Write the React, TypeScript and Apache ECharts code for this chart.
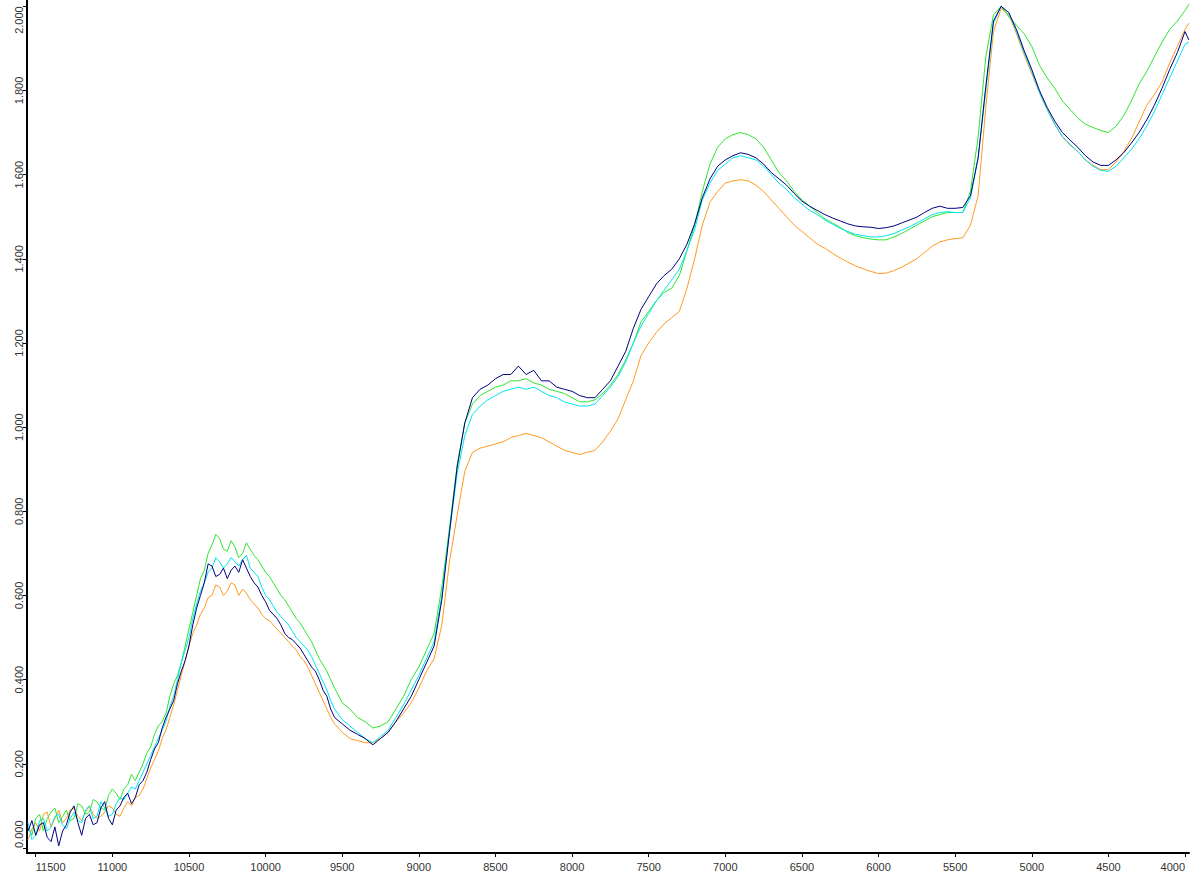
import React, { useEffect, useRef } from "react";
import * as echarts from "echarts";

const WAVENUMBERS = [
  11550, 11525, 11500, 11475, 11450, 11425, 11400, 11375, 11350, 11325,
  11300, 11275, 11250, 11225, 11200, 11175, 11150, 11125, 11100, 11075,
  11050, 11025, 11000, 10975, 10950, 10925, 10900, 10875, 10850, 10825,
  10800, 10775, 10750, 10725, 10700, 10675, 10650, 10625, 10600, 10575,
  10550, 10525, 10500, 10475, 10450, 10425, 10400, 10375, 10350, 10325,
  10300, 10275, 10250, 10225, 10200, 10175, 10150, 10125, 10100, 10075,
  10050, 10025, 10000, 9975, 9950, 9925, 9900, 9875, 9850, 9825,
  9800, 9775, 9750, 9725, 9700, 9675, 9650, 9625, 9600, 9575,
  9550, 9500, 9450, 9400, 9350, 9300, 9250, 9200, 9150, 9100,
  9050, 9000, 8950, 8900, 8850, 8800, 8750, 8700, 8650, 8600,
  8550, 8500, 8450, 8400, 8350, 8300, 8250, 8200, 8150, 8100,
  8050, 8000, 7950, 7900, 7850, 7800, 7750, 7700, 7650, 7600,
  7550, 7500, 7450, 7400, 7350, 7300, 7250, 7200, 7150, 7100,
  7050, 7000, 6950, 6900, 6850, 6800, 6750, 6700, 6650, 6600,
  6550, 6500, 6450, 6400, 6350, 6300, 6250, 6200, 6150, 6100,
  6050, 6000, 5950, 5900, 5850, 5800, 5750, 5700, 5650, 5600,
  5550, 5500, 5450, 5400, 5350, 5300, 5250, 5200, 5150, 5100,
  5050, 5000, 4950, 4900, 4850, 4800, 4750, 4700, 4650, 4600,
  4550, 4500, 4450, 4400, 4350, 4300, 4250, 4200, 4150, 4100,
  4050, 4000, 3975,
];

const NAVY = [
  0.04, 0.065, 0.03, 0.055, 0.06, 0.025, 0.015, 0.05, 0.005, 0.04,
  0.055, 0.085, 0.10, 0.06, 0.03, 0.07, 0.08, 0.055, 0.06, 0.095,
  0.11, 0.07, 0.055, 0.09, 0.10, 0.12, 0.13, 0.105, 0.12, 0.15,
  0.16, 0.18, 0.21, 0.235, 0.25, 0.285, 0.31, 0.33, 0.35, 0.39,
  0.42, 0.445, 0.48, 0.53, 0.57, 0.60, 0.63, 0.675, 0.67, 0.645,
  0.65, 0.665, 0.64, 0.66, 0.67, 0.655, 0.685, 0.665, 0.645, 0.63,
  0.62, 0.60, 0.585, 0.565, 0.555, 0.545, 0.53, 0.51, 0.50, 0.495,
  0.485, 0.475, 0.46, 0.445, 0.43, 0.42, 0.40, 0.375, 0.36, 0.33,
  0.31, 0.295, 0.28, 0.27, 0.26, 0.245, 0.26, 0.275, 0.30, 0.33,
  0.36, 0.40, 0.44, 0.48, 0.59, 0.75, 0.905, 1.01, 1.07, 1.09,
  1.10, 1.115, 1.125, 1.125, 1.145, 1.125, 1.135, 1.11, 1.11, 1.095,
  1.09, 1.085, 1.075, 1.07, 1.07, 1.09, 1.11, 1.145, 1.18, 1.235,
  1.28, 1.31, 1.34, 1.36, 1.375, 1.40, 1.435, 1.483, 1.545, 1.59,
  1.62, 1.635, 1.645, 1.652, 1.648, 1.64, 1.625, 1.605, 1.59, 1.575,
  1.555, 1.537, 1.525, 1.515, 1.505, 1.497, 1.49, 1.483, 1.478, 1.476,
  1.475, 1.472, 1.474, 1.478, 1.485, 1.492, 1.499, 1.51, 1.52, 1.525,
  1.52, 1.52, 1.522, 1.55, 1.64, 1.81, 1.965, 2.0, 1.985, 1.945,
  1.895, 1.85, 1.80, 1.76, 1.727, 1.70, 1.682, 1.665, 1.645, 1.63,
  1.622, 1.622, 1.635, 1.652, 1.675, 1.70, 1.73, 1.765, 1.805, 1.85,
  1.89, 1.94, 1.92,
];

const GREEN = [
  0.05, 0.03, 0.07, 0.08, 0.04, 0.07, 0.085, 0.095, 0.06, 0.075,
  0.09, 0.065, 0.07, 0.105, 0.10, 0.08, 0.085, 0.115, 0.11, 0.095,
  0.09, 0.125, 0.14, 0.13, 0.115, 0.14, 0.15, 0.175, 0.16, 0.18,
  0.20, 0.225, 0.24, 0.27, 0.29, 0.30, 0.32, 0.36, 0.39, 0.41,
  0.44, 0.48, 0.52, 0.56, 0.60, 0.64, 0.66, 0.70, 0.72, 0.745,
  0.735, 0.71, 0.705, 0.73, 0.715, 0.69, 0.70, 0.725, 0.71, 0.695,
  0.685, 0.67, 0.655, 0.645, 0.63, 0.615, 0.60, 0.59, 0.575, 0.56,
  0.545, 0.535, 0.52, 0.505, 0.49, 0.47, 0.45, 0.435, 0.42, 0.40,
  0.38, 0.345, 0.33, 0.31, 0.30, 0.285, 0.29, 0.30, 0.33, 0.36,
  0.40, 0.43, 0.47, 0.51, 0.62, 0.76, 0.91, 1.01, 1.055, 1.075,
  1.085, 1.095, 1.10, 1.11, 1.11, 1.115, 1.105, 1.10, 1.09, 1.085,
  1.08, 1.07, 1.06, 1.06, 1.065, 1.08, 1.10, 1.125, 1.16, 1.20,
  1.25, 1.275, 1.30, 1.32, 1.33, 1.36, 1.42, 1.48, 1.56, 1.625,
  1.665, 1.685, 1.695, 1.70, 1.695, 1.685, 1.665, 1.635, 1.605, 1.585,
  1.56, 1.54, 1.525, 1.51, 1.495, 1.485, 1.475, 1.462, 1.455, 1.45,
  1.447, 1.445, 1.445, 1.452, 1.46, 1.47, 1.48, 1.49, 1.50, 1.505,
  1.51, 1.51, 1.51, 1.56, 1.69, 1.88, 1.98, 2.0, 1.975, 1.955,
  1.935, 1.905, 1.86, 1.83, 1.805, 1.775, 1.755, 1.735, 1.72, 1.712,
  1.705, 1.70, 1.715, 1.74, 1.775, 1.815, 1.845, 1.88, 1.915, 1.945,
  1.965, 1.99, 2.005,
];

const CYAN = [
  0.06, 0.02, 0.03, 0.065, 0.07, 0.04, 0.05, 0.075, 0.08, 0.055,
  0.045, 0.07, 0.085, 0.065, 0.06, 0.09, 0.10, 0.07, 0.075, 0.11,
  0.095, 0.075, 0.08, 0.105, 0.12, 0.115, 0.13, 0.145, 0.14, 0.16,
  0.18, 0.20, 0.22, 0.24, 0.26, 0.28, 0.30, 0.335, 0.36, 0.40,
  0.44, 0.47, 0.50, 0.545, 0.58, 0.61, 0.63, 0.655, 0.665, 0.69,
  0.68, 0.665, 0.675, 0.69, 0.68, 0.67, 0.685, 0.695, 0.665, 0.655,
  0.645, 0.62, 0.60, 0.59, 0.575, 0.56, 0.55, 0.54, 0.53, 0.515,
  0.50, 0.49, 0.48, 0.47, 0.455, 0.435, 0.415, 0.395, 0.375, 0.35,
  0.33, 0.305, 0.29, 0.275, 0.26, 0.25, 0.265, 0.28, 0.31, 0.34,
  0.375, 0.41, 0.45, 0.49, 0.60, 0.75, 0.89, 0.98, 1.03, 1.05,
  1.065, 1.075, 1.085, 1.09, 1.095, 1.09, 1.095, 1.085, 1.075, 1.07,
  1.06, 1.055, 1.05, 1.05, 1.055, 1.075, 1.095, 1.12, 1.155, 1.20,
  1.24, 1.27, 1.30, 1.325, 1.35, 1.375, 1.42, 1.47, 1.54, 1.58,
  1.61, 1.625, 1.64, 1.645, 1.64, 1.635, 1.62, 1.60, 1.58, 1.565,
  1.545, 1.53, 1.515, 1.505, 1.492, 1.482, 1.472, 1.465, 1.458, 1.455,
  1.452, 1.452, 1.455, 1.46, 1.468, 1.476, 1.485, 1.495, 1.505, 1.51,
  1.512, 1.51, 1.51, 1.545, 1.64, 1.80, 1.96, 2.0, 1.985, 1.94,
  1.89, 1.845, 1.795, 1.755, 1.72, 1.69, 1.672, 1.655, 1.635, 1.62,
  1.61, 1.608, 1.62, 1.64, 1.66, 1.685, 1.715, 1.75, 1.79, 1.83,
  1.87, 1.91, 1.915,
];

const ORANGE = [
  0.02, 0.045, 0.06, 0.04, 0.08, 0.085, 0.05, 0.07, 0.09, 0.06,
  0.07, 0.09, 0.095, 0.075, 0.065, 0.085, 0.10, 0.08, 0.07, 0.075,
  0.085, 0.10, 0.095, 0.08, 0.075, 0.095, 0.11, 0.10, 0.12, 0.125,
  0.14, 0.165, 0.19, 0.21, 0.23, 0.26, 0.28, 0.31, 0.34, 0.375,
  0.41, 0.445, 0.48, 0.51, 0.53, 0.555, 0.57, 0.595, 0.60, 0.625,
  0.62, 0.60, 0.61, 0.63, 0.625, 0.60, 0.615, 0.605, 0.59, 0.58,
  0.57, 0.555, 0.545, 0.54, 0.53, 0.52, 0.51, 0.50, 0.49, 0.48,
  0.47, 0.455, 0.445, 0.43, 0.41, 0.39, 0.37, 0.35, 0.33, 0.31,
  0.295, 0.275, 0.26, 0.255, 0.25, 0.25, 0.26, 0.275, 0.30, 0.32,
  0.345, 0.38, 0.42, 0.45, 0.53, 0.68, 0.79, 0.895, 0.94, 0.95,
  0.955, 0.96, 0.965, 0.975, 0.98, 0.985, 0.98, 0.975, 0.965, 0.955,
  0.945, 0.94, 0.935, 0.94, 0.945, 0.965, 0.99, 1.02, 1.065, 1.11,
  1.17, 1.20, 1.225, 1.245, 1.26, 1.275, 1.33, 1.40, 1.48, 1.535,
  1.56, 1.58, 1.585, 1.588, 1.585, 1.575, 1.56, 1.54, 1.52, 1.50,
  1.48, 1.465, 1.45, 1.435, 1.425, 1.413, 1.402, 1.392, 1.383, 1.376,
  1.37, 1.365, 1.366, 1.372, 1.38, 1.39, 1.40, 1.415, 1.43, 1.44,
  1.445, 1.448, 1.45, 1.48, 1.55, 1.76, 1.94, 1.995, 1.98, 1.935,
  1.885, 1.84, 1.795, 1.755, 1.72, 1.69, 1.67, 1.655, 1.635, 1.622,
  1.612, 1.612, 1.63, 1.655, 1.685, 1.725, 1.765, 1.79, 1.82, 1.865,
  1.905, 1.945, 1.96,
];

const X_TICKS = [11500, 11000, 10500, 10000, 9500, 9000, 8500, 8000, 7500, 7000, 6500, 6000, 5500, 5000, 4500, 4000];
const Y_TICKS = [0, 0.2, 0.4, 0.6, 0.8, 1.0, 1.2, 1.4, 1.6, 1.8, 2.0];

const SERIES_DEFS = [
  { name: "orange", color: "#ff9a1f", values: ORANGE },
  { name: "green", color: "#2ee62e", values: GREEN },
  { name: "cyan", color: "#00e5ee", values: CYAN },
  { name: "navy", color: "#000080", values: NAVY },
];

export default function App() {
  const ref = useRef<HTMLDivElement>(null);
  useEffect(() => {
    if (!ref.current) return;
    const chart = echarts.init(ref.current, null, { renderer: "svg" });
    const labelStyle = {
      color: "#333",
      fontFamily: "Liberation Sans, Arial, sans-serif",
      fontSize: 11,
    };
    chart.setOption({
      animation: false,
      backgroundColor: "#ffffff",
      grid: { left: 27, right: 11, top: 0, bottom: 32 },
      xAxis: {
        type: "value",
        inverse: true,
        min: 3974,
        max: 11557,
        splitLine: { show: false },
        axisLine: { show: true, onZero: false, lineStyle: { color: "#000", width: 2 } },
        axisTick: { show: true, length: 4, customValues: X_TICKS, lineStyle: { color: "#000", width: 1 } },
        axisLabel: {
          ...labelStyle,
          margin: 8,
          customValues: X_TICKS,
          alignMinLabel: "left",
          alignMaxLabel: "right",
          formatter: (v: number) => String(Math.round(v)),
        },
      },
      yAxis: {
        type: "value",
        min: -0.012,
        max: 2.015,
        splitLine: { show: false },
        axisLine: { show: true, onZero: false, lineStyle: { color: "#000", width: 2 } },
        axisTick: { show: true, length: 4, customValues: Y_TICKS, lineStyle: { color: "#000", width: 1 } },
        axisLabel: {
          ...labelStyle,
          rotate: 90,
          margin: 3,
          customValues: Y_TICKS,
          alignMinLabel: "left",
          alignMaxLabel: "right",
          formatter: (v: number) => v.toFixed(3),
        },
      },
      series: SERIES_DEFS.map((s) => ({
        name: s.name,
        type: "line",
        showSymbol: false,
        symbol: "none",
        silent: true,
        lineStyle: { color: s.color, width: 1 },
        data: WAVENUMBERS.map((w, i) => [w, s.values[i]]),
      })),
    });
    return () => chart.dispose();
  }, []);
  return <div ref={ref} style={{ width: 1200, height: 885, position: "absolute", left: 0, top: 0 }} />;
}
